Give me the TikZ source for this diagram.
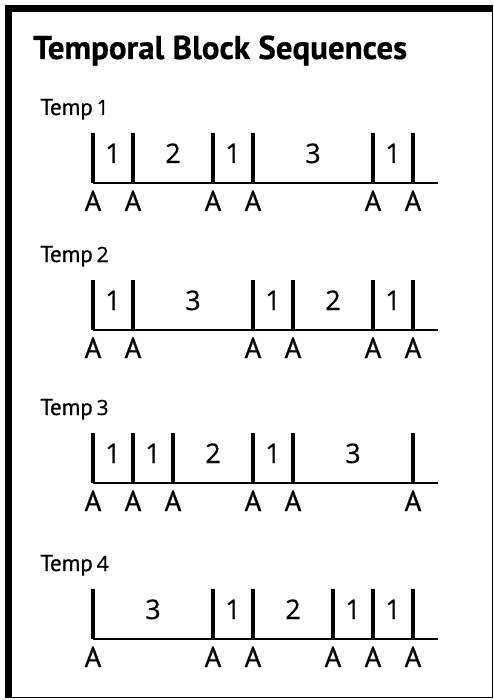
\documentclass[tikz,border=0pt]{standalone}
\usepackage{fontspec}
\setmainfont[FakeBold=0.6]{PT Sans}
\newfontfamily\numfont[FakeBold=0.6]{Open Sans}
\begin{document}
\begin{tikzpicture}[x=1pt,y=-1pt,
  tick/.style={line width=4pt},
  axis/.style={line width=1.4pt},
  digit/.style={font=\numfont\fontsize{27}{27}\selectfont,anchor=base,inner sep=0pt},
  alabel/.style={font=\fontsize{29}{29}\selectfont,anchor=base,inner sep=0pt},
  tlabel/.style={font=\fontsize{23}{23}\selectfont,anchor=base west,inner sep=0pt}]
 \useasboundingbox (0,0) rectangle (494,700);
 % frame, heavy on top and left
 \draw[line width=1.5pt] (8,9) rectangle (492.5,697.5);
 \draw[line width=7pt] (8,697.5) -- (8,9) -- (492.5,9);
 \node[font=\bfseries\fontsize{33}{33}\selectfont,anchor=base west,inner sep=0pt] (title) at (33,59) {Temporal Block Sequences};
 % rows: number / baseline / ticks (in 40pt units) / block centres and lengths
 \foreach \r/\yb/\tk/\bl in {1/183/{0,1,3,4,7,8}/{0.5/1,2/2,3.5/1,5.5/3,7.5/1},
   2/330/{0,1,4,5,7,8}/{0.5/1,2.5/3,4.5/1,6/2,7.5/1},
   3/483/{0,1,2,4,5,8}/{0.5/1,1.5/1,3/2,4.5/1,6.5/3},
   4/639/{0,3,4,6,7,8}/{1.5/3,3.5/1,5/2,6.5/1,7.5/1}}{
  \node[tlabel] (temp\r) at (40,\yb-68) {Temp\,{\numfont\fontsize{21}{21}\selectfont\r}};
  \coordinate (o\r) at (93,\yb); \coordinate (e\r) at (438,\yb);
  \draw[axis] (o\r) -- (e\r);
  \foreach \t in \tk {\coordinate (t\r\t) at (93+40*\t,\yb); \coordinate (u\r\t) at (93+40*\t,\yb-50);
   \draw[tick] (t\r\t) -- (u\r\t); \node[alabel] (a\r\t) at (93+40*\t,\yb+28) {A};}
  \foreach \c/\n [count=\k] in \bl {\node[digit] (b\r\k) at (93+40*\c,\yb-20) {\n};}
 }
\end{tikzpicture}
\end{document}
